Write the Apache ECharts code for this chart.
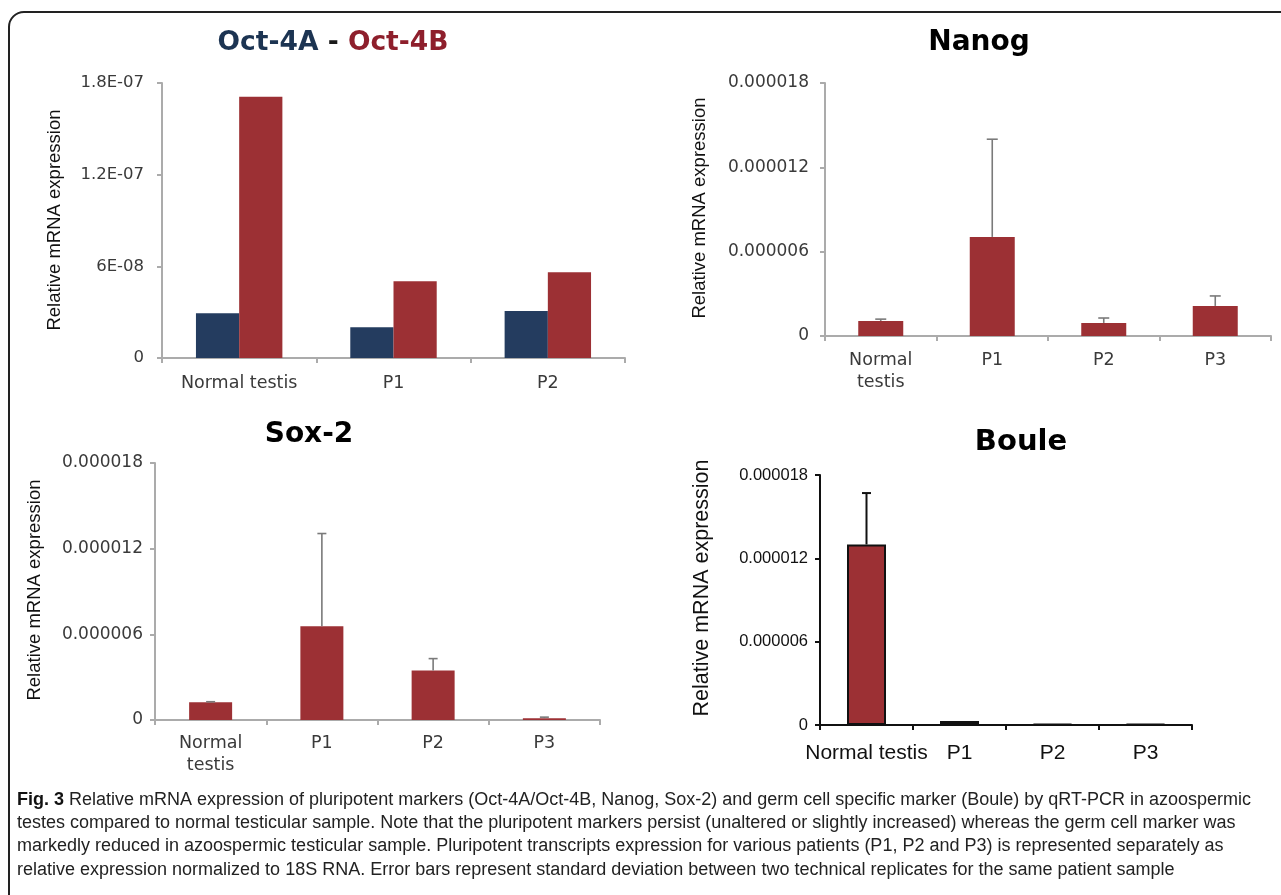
<!DOCTYPE html>
<html><head><meta charset="utf-8">
<script src="https://cdn.jsdelivr.net/npm/echarts@6/dist/echarts.min.js"></script>
<style>html,body{margin:0;padding:0;background:#fff}#c{width:1281px;height:895px}</style>
</head><body><div id="c"></div><script>
// ---------- data ----------
const octCategories = ['Normal testis', 'P1', 'P2'];
const oct4A = [2.93e-8, 2.02e-8, 3.07e-8];
const oct4B = [1.71e-7, 5.02e-8, 5.61e-8];
const octTicks = ['0', '6E-08', '1.2E-07', '1.8E-07'];

const patientCategories = ['Normal\ntestis', 'P1', 'P2', 'P3'];
const nanogValues = [1.07e-6, 7.05e-6, 0.93e-6, 2.14e-6];
const nanogSD = [0.13e-6, 6.95e-6, 0.35e-6, 0.71e-6];
const sox2Values = [1.25e-6, 6.56e-6, 3.47e-6, 0.12e-6];
const sox2SD = [0.03e-6, 6.5e-6, 0.83e-6, 0.08e-6];
const bouleCategories = ['Normal testis', 'P1', 'P2', 'P3'];
const bouleValues = [1.3e-5, 0.28e-6, 0.06e-6, 0.06e-6];
const bouleSD = [3.7e-6, 0, 0, 0];
const expTicks = ['0', '0.000006', '0.000012', '0.000018'];

const yTitle = 'Relative mRNA expression';
const captionBold = 'Fig. 3';
const captionLines = [
  ' Relative mRNA expression of pluripotent markers (Oct-4A/Oct-4B, Nanog, Sox-2) and germ cell specific marker (Boule) by qRT-PCR in azoospermic',
  'testes compared to normal testicular sample. Note that the pluripotent markers persist (unaltered or slightly increased) whereas the germ cell marker was',
  'markedly reduced in azoospermic testicular sample. Pluripotent transcripts expression for various patients (P1, P2 and P3) is represented separately as',
  'relative expression normalized to 18S RNA. Error bars represent standard deviation between two technical replicates for the same patient sample'
];

// ---------- styles ----------
const NAVY = '#243C5F', RED = '#9C3034', GREY = '#ABABAB';
const F1 = 'DejaVu Sans', F2 = 'Liberation Sans';

function catAxis(gi, data, o) {
  return {
    type: 'category', gridIndex: gi, data: data,
    axisLine: { lineStyle: { color: o.color, width: o.width } },
    axisTick: { show: true, length: 5, lineStyle: { color: o.color, width: o.width } },
    axisLabel: { color: o.text, fontFamily: o.font, fontSize: o.size, margin: o.margin, lineHeight: o.lh, interval: 0 }
  };
}
function valAxis(gi, step, labels, o) {
  return {
    type: 'value', gridIndex: gi, min: 0, max: step * 3, interval: step,
    splitLine: { show: false },
    axisLine: { show: true, lineStyle: { color: o.color, width: o.width } },
    axisTick: { show: true, length: 5, lineStyle: { color: o.color, width: o.width } },
    axisLabel: { color: o.text, fontFamily: o.font, fontSize: o.size, margin: o.margin,
      formatter: v => labels[Math.round(v / step)] }
  };
}
function errorSeries(gi, values, sd, color, lw, capW) {
  return {
    type: 'custom', xAxisIndex: gi, yAxisIndex: gi, z: 5, silent: true,
    data: values.map((v, i) => [i, v, v + sd[i]]),
    renderItem: function (params, api) {
      if (!(api.value(2) > api.value(1))) return null;
      const b = api.coord([api.value(0), api.value(1)]);
      const t = api.coord([api.value(0), api.value(2)]);
      const x = b[0];
      return { type: 'group', children: [
        { type: 'line', shape: { x1: x, y1: b[1], x2: x, y2: t[1] }, style: { stroke: color, lineWidth: lw } },
        { type: 'line', shape: { x1: x - capW / 2, y1: t[1], x2: x + capW / 2, y2: t[1] }, style: { stroke: color, lineWidth: lw } }
      ] };
    }
  };
}

const greyAx = { color: GREY, width: 2, text: '#3a3a3a', font: F1 };
const blackAx = { color: '#111', width: 2, text: '#111', font: F2 };

function yName(x, y, size) {
  return { type: 'text', x: x, y: y, rotation: Math.PI / 2,
    style: { text: yTitle, font: size + 'px "' + F2 + '"', fill: '#111', align: 'center', verticalAlign: 'middle' } };
}
function title(x, y, text, size) {
  return { type: 'text', x: x, y: y,
    style: { text: text, font: 'bold ' + size + 'px "' + F1 + '"', fill: '#000', align: 'center', verticalAlign: 'middle' } };
}

const chart = echarts.init(document.getElementById('c'), null, { renderer: 'canvas' });
chart.setOption({
  animation: false,
  backgroundColor: '#fff',
  grid: [
    { left: 162, top: 83, width: 463, height: 275 },
    { left: 825, top: 83, width: 446, height: 253 },
    { left: 155, top: 463, width: 445, height: 257 },
    { left: 820, top: 475, width: 372, height: 250 }
  ],
  xAxis: [
    catAxis(0, octCategories, Object.assign({}, greyAx, { size: 17.5, margin: 15, lh: 20 })),
    catAxis(1, patientCategories, Object.assign({}, greyAx, { size: 17.5, margin: 13, lh: 22 })),
    catAxis(2, patientCategories, Object.assign({}, greyAx, { size: 17.5, margin: 12, lh: 22 })),
    catAxis(3, bouleCategories, Object.assign({}, blackAx, { size: 21, margin: 16, lh: 24 }))
  ],
  yAxis: [
    valAxis(0, 6e-8, octTicks, Object.assign({}, greyAx, { size: 16.5, margin: 18 })),
    valAxis(1, 6e-6, expTicks, Object.assign({}, greyAx, { size: 17, margin: 16 })),
    valAxis(2, 6e-6, expTicks, Object.assign({}, greyAx, { size: 17, margin: 12 })),
    valAxis(3, 6e-6, expTicks, Object.assign({}, blackAx, { size: 16.5, margin: 12 }))
  ],
  series: [
    { type: 'bar', xAxisIndex: 0, yAxisIndex: 0, data: oct4A, itemStyle: { color: NAVY }, barGap: '0%', barCategoryGap: '44%' },
    { type: 'bar', xAxisIndex: 0, yAxisIndex: 0, data: oct4B, itemStyle: { color: RED }, barGap: '0%', barCategoryGap: '44%' },
    { type: 'bar', xAxisIndex: 1, yAxisIndex: 1, data: nanogValues, itemStyle: { color: RED }, barWidth: 45 },
    errorSeries(1, nanogValues, nanogSD, '#7a7a7a', 1.6, 11),
    { type: 'bar', xAxisIndex: 2, yAxisIndex: 2, data: sox2Values, itemStyle: { color: RED }, barWidth: 43 },
    errorSeries(2, sox2Values, sox2SD, '#7a7a7a', 1.6, 9),
    { type: 'bar', xAxisIndex: 3, yAxisIndex: 3, data: bouleValues, itemStyle: { color: RED, borderColor: '#111', borderWidth: 2 }, barWidth: 39 },
    errorSeries(3, bouleValues, bouleSD, '#111', 2, 9)
  ],
  graphic: [
    { type: 'rect', shape: { x: 9, y: 12, width: 1320, height: 920, r: 15 }, style: { fill: 'none', stroke: '#222', lineWidth: 2 } },
    { type: 'text', x: 333, y: 43, style: {
        text: '{a|Oct-4A }{d|-}{b| Oct-4B}', align: 'center', verticalAlign: 'middle',
        rich: {
          a: { fontFamily: F1, fontWeight: 'bold', fontSize: 26.5, fill: '#1C3452', color: '#1C3452' },
          d: { fontFamily: F1, fontWeight: 'bold', fontSize: 26.5, fill: '#1a1a1a', color: '#1a1a1a' },
          b: { fontFamily: F1, fontWeight: 'bold', fontSize: 26.5, fill: '#8E1F2C', color: '#8E1F2C' }
        } } },
    title(979, 43, 'Nanog', 28),
    title(309, 435, 'Sox-2', 28),
    title(1021, 442, 'Boule', 29),
    yName(55, 220, 18.5),
    yName(700, 208, 18.5),
    yName(35, 590, 18.5),
    yName(702, 588, 21.5),
    { type: 'text', x: 17, y: 788, style: {
        text: '{b|' + captionBold + '}{r|' + captionLines[0] + '}\n{r|' + captionLines.slice(1).join('}\n{r|') + '}',
        rich: {
          b: { fontFamily: F2, fontWeight: 'bold', fontSize: 18, lineHeight: 23.3, fill: '#111', color: '#111' },
          r: { fontFamily: F2, fontSize: 18, lineHeight: 23.3, fill: '#222', color: '#222' }
        } } }
  ]
});
</script></body></html>
